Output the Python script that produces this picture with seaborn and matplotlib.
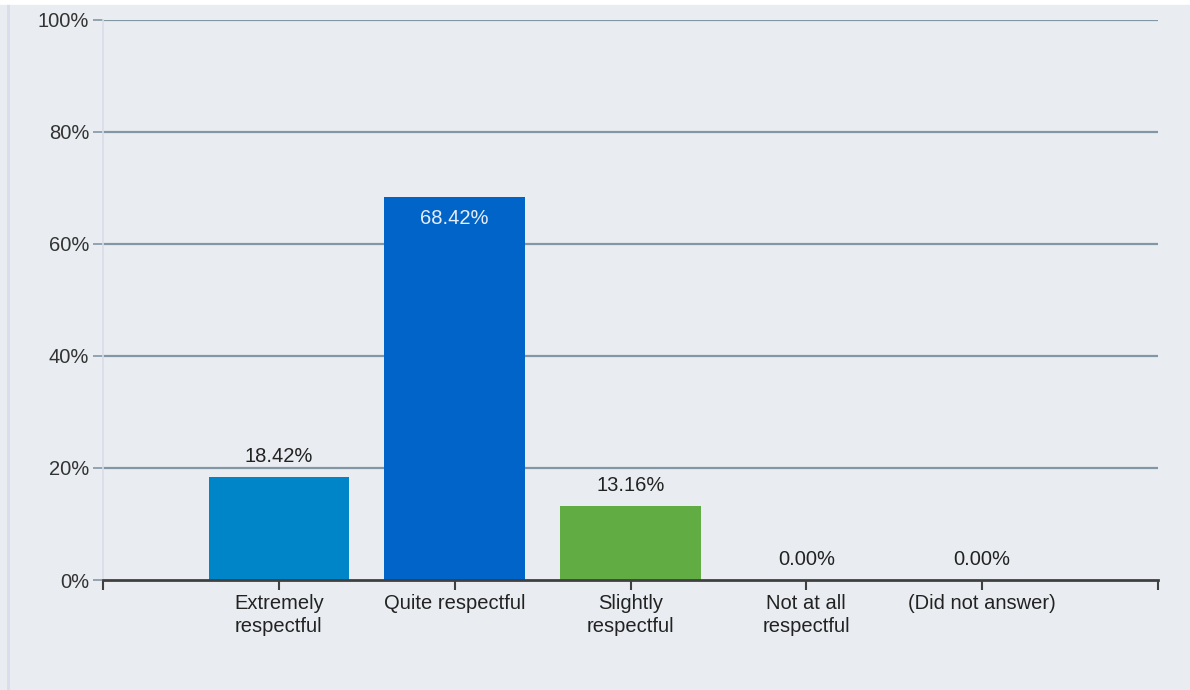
import numpy as np
import pandas as pd
import matplotlib
matplotlib.use('Agg')
import matplotlib.pyplot as plt
from matplotlib.lines import Line2D
import seaborn as sns

# DATA
categories = [
    'Extremely\nrespectful',
    'Quite respectful',
    'Slightly\nrespectful',
    'Not at all\nrespectful',
    '(Did not answer)'
]
percent = [18.42, 68.42, 13.16, 0.00, 0.00]
bar_colors = ['#0086C8', '#0064C8', '#62AC44', '#9E9E9E', '#9E9E9E']
y_ticks = [0, 20, 40, 60, 80, 100]

df = pd.DataFrame({'Category': categories, 'Percent': percent})

bg = '#E9EDF1'
fs = 14.5

sns.set_style('white')
plt.rcParams['font.family'] = ['Liberation Sans', 'DejaVu Sans']

fig = plt.figure(figsize=(11.9, 6.9), dpi=100, facecolor=bg)
ax = fig.add_axes([103 / 1190, 1 - 580 / 690, 1055 / 1190, 560 / 690])
ax.set_facecolor(bg)

sns.barplot(
    data=df,
    x='Category',
    y='Percent',
    hue='Category',
    palette=bar_colors,
    order=categories,
    width=0.8,
    saturation=1,
    linewidth=0,
    edgecolor='none',
    legend=False,
    ax=ax
)

# grid
for t in y_ticks[1:]:
    ax.axhline(t, color='#8396A3', linewidth=1.6, zorder=0)

ax.set_ylim(0, 100)
ax.set_xlim(-1, len(categories))
ax.set_yticks(y_ticks)
ax.set_yticklabels([f'{t}%' for t in y_ticks], fontsize=fs, color='#333333')

ax.set_xticks(np.arange(-1, len(categories) + 1))
ax.set_xticklabels([''] + categories + [''], fontsize=fs, color='#222222',
                   linespacing=1.25)

ax.set_xlabel('')
ax.set_ylabel('')

for s in ['top', 'right']:
    ax.spines[s].set_visible(False)
ax.spines['left'].set_color('#D9DCEA')
ax.spines['left'].set_linewidth(1.2)
ax.spines['bottom'].set_color('#404040')
ax.spines['bottom'].set_linewidth(2)

ax.tick_params(axis='x', length=7, width=1.5, color='#404040', pad=3, direction='out')
ax.tick_params(axis='y', length=7, width=1.2, color='#8396A3', pad=3, direction='out')
ax.tick_params(left=True, bottom=True)

# value labels
for p, v in zip(ax.patches, percent):
    xc = p.get_x() + p.get_width() / 2
    h = p.get_height()
    if v > 50:
        ax.annotate(f'{v:.2f}%', (xc, h), xytext=(0, -9), textcoords='offset points',
                    ha='center', va='top', fontsize=fs, color='#E8EEF8')
    else:
        ax.annotate(f'{v:.2f}%', (xc, h), xytext=(0, 8), textcoords='offset points',
                    ha='center', va='bottom', fontsize=fs, color='#222222')

# frame lines of the panel
fig.add_artist(Line2D([8 / 1190, 8 / 1190], [0, 1 - 4 / 690], transform=fig.transFigure,
                      color='#D9DCEA', linewidth=2))
fig.add_artist(Line2D([0, 1], [1 - 2 / 690, 1 - 2 / 690], transform=fig.transFigure,
                      color='white', linewidth=4))

plt.savefig('out.png', dpi=100, facecolor=bg)
